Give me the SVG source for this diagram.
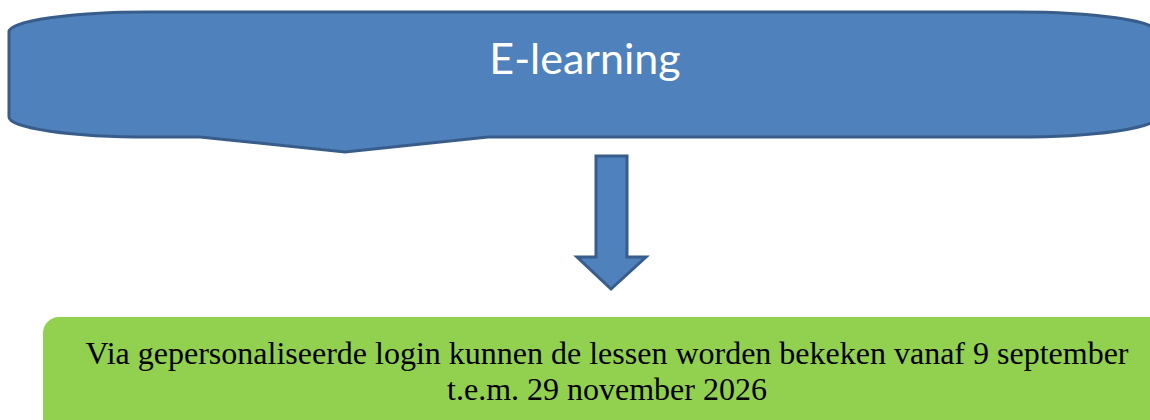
<svg xmlns="http://www.w3.org/2000/svg" width="1150" height="420" viewBox="0 0 1150 420">
<style>
.blue{fill:#4F81BD;stroke:#385D8A;stroke-width:3;stroke-linejoin:miter}
.title{font-family:Lato,"Open Sans","Liberation Sans",sans-serif;font-size:43px;fill:#FFFFFF}
.body{font-family:"Liberation Serif","Times New Roman",serif;font-size:32px;fill:#000000}
</style>
<rect width="1150" height="420" fill="#FFFFFF"/>
<g id="callout">
<path class="blue" d="M 9,32 A 140 20 0 0 1 149,12 L 1017,12 A 140 20 0 0 1 1157,32 L 1157,117 A 140 20 0 0 1 1017,137 L 488,137 L 345,152 L 200,137 L 149,137 A 140 20 0 0 1 9,117 Z"/>
<text class="title" x="585" y="74" text-anchor="middle">E-learning</text>
</g>
<g id="connectors">
<path class="blue" d="M 596,156 L 627,156 L 627,257 L 646,257 L 611,289 L 577,257 L 596,257 Z"/>
</g>
<g id="info">
<rect x="43" y="317" width="1130" height="130" rx="16" ry="16" fill="#92D050"/>
<text class="body" text-anchor="middle"><tspan x="607" y="364">Via gepersonaliseerde login kunnen de lessen worden bekeken vanaf 9 september</tspan><tspan x="607" y="400">t.e.m. 29 november 2026</tspan></text>
</g>
</svg>
